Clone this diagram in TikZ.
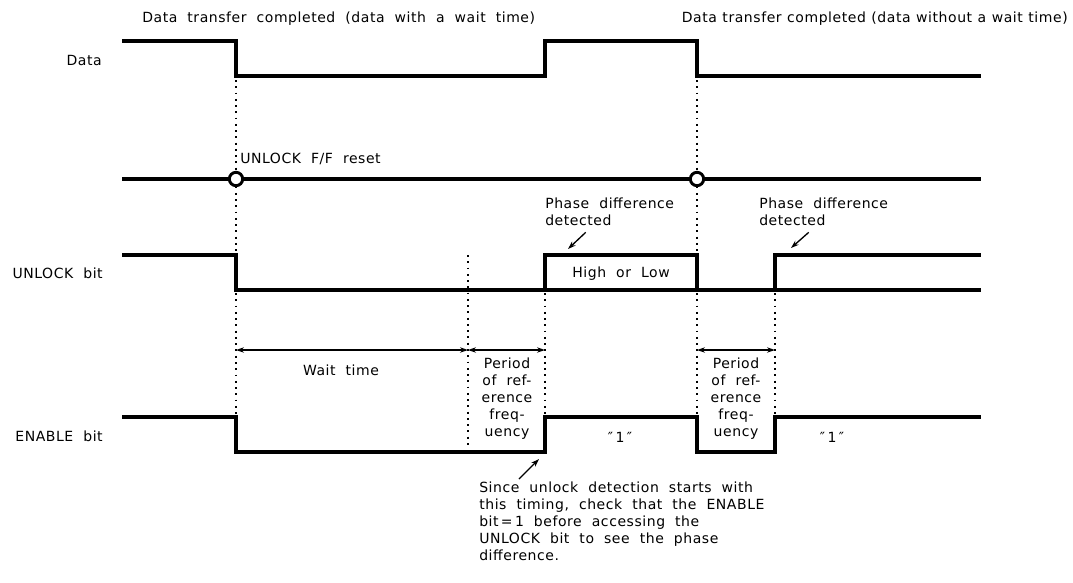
\documentclass[tikz,border=0pt]{standalone}
\usepackage{fontspec}
\setmainfont[LetterSpace=4, WordSpace=2]{DejaVu Sans}
\newfontfamily\tightfont[LetterSpace=4, WordSpace=1.1]{DejaVu Sans}
\usetikzlibrary{positioning}
\usetikzlibrary{arrows.meta}

\begin{document}
\begin{tikzpicture}[
                x=0.75pt, y=-0.75pt, % 以像素为单位, y 向下
                wave/.style={line width=2.5pt, line join=miter}, % 波形线
                guide/.style={line width=1.1pt, dash pattern=on 1.4pt off 3.3pt}, % 点线
                span/.style={line width=1pt, {Stealth[length=6pt,width=4pt]}-{Stealth[length=6pt,width=4pt]}}, % 尺寸箭头
                ptr/.style={line width=1pt, -{Stealth[length=6pt,width=4pt]}}, % 指示箭头
                every node/.style={
                    inner sep=0, % 内边距为 0
                    font=\fontsize{10.5}{12.75}\selectfont % 字体大小
                },
                ring/.style={circle, draw, fill=white, line width=2.2pt, minimum size=10pt} % 复位圆圈
            ]

            \useasboundingbox (0,0) rectangle (1073,582);

            % 信号名称
            \node [anchor=base east] (data) at (102,65) {Data};
            \node [anchor=base east] (unlk) at (103,278) {UNLOCK bit};
            \node [anchor=base east] (enbl) at (103,441) {ENABLE bit};

            % 顶部说明
            \node [anchor=base west] (done1) at (142,22) {Data transfer completed (data with a wait time)};
            \node [anchor=base east, font=\fontsize{10.5}{12.75}\tightfont] (done2) at (1068,22) {Data transfer completed (data without a wait time)};

            % 点线
            \draw [guide] (236,80) -- (236,417);
            \draw [guide] (697,80) -- (697,255);
            \draw [guide] (697,293) -- (697,417);
            \draw [guide] (468,255) -- (468,447);
            \draw [guide] (545,293) -- (545,417);
            \draw [guide] (775,293) -- (775,417);

            % Data 波形
            \draw [wave] (122,41) -- (236,41) -- (236,76) -- (545,76) -- (545,41) -- (697,41) -- (697,76) -- (981,76);

            % 复位线
            \draw [wave] (122,179) -- (981,179);
            \node [ring] (rst1) at (236,179) {};
            \node [ring] (rst2) at (697,179) {};
            \node [anchor=base west] (rstlbl) at (240,163) {UNLOCK F/F reset};

            % UNLOCK bit 波形
            \draw [wave] (122,255) -- (236,255) -- (236,290) -- (981,290);
            \draw [wave] (545,290) -- (545,255) -- (697,255) -- (697,290);
            \draw [wave] (775,290) -- (775,255) -- (981,255);
            \node [anchor=base] (hilo) at (621,277) {High or Low};

            % 相位差检测
            \node [anchor=north west, align=left] (ph1) at (545,198) {Phase difference\\detected};
            \node [anchor=north west, align=left] (ph2) at (759,198) {Phase difference\\detected};
            \coordinate (hit1) at (568,249);
            \coordinate (hit2) at (791,248);
            \draw [ptr] ([shift={(-24,6)}]ph1.south) -- (hit1);
            \draw [ptr] ([shift={(-15,6)}]ph2.south) -- (hit2);

            % 时间间隔
            \coordinate (t0) at (236,350);
            \coordinate (t1) at (468,350);
            \coordinate (t2) at (545,350);
            \coordinate (t3) at (697,350);
            \coordinate (t4) at (775,350);
            \draw [span] (t0) -- (t1);
            \draw [span] (t1) -- (t2);
            \draw [span] (t3) -- (t4);
            \node [anchor=base] (wait) at (341,375) {Wait time};
            \node [anchor=north, align=center] (per1) at (507,358) {Period\\of ref-\\erence\\freq-\\uency};
            \node [anchor=north, align=center] (per2) at (736,358) {Period\\of ref-\\erence\\freq-\\uency};

            % ENABLE bit 波形
            \draw [wave] (122,417) -- (236,417) -- (236,452) -- (545,452) -- (545,417) -- (697,417) -- (697,452) -- (775,452) -- (775,417) -- (981,417);
            \node [anchor=base] (one1) at (620,442) {″\,1\,″};
            \node [anchor=base] (one2) at (832,442) {″\,1\,″};

            % 底部注释
            \node [anchor=north west, align=left] (note) at (479,482) {Since unlock detection starts with\\this timing, check that the ENABLE\\bit\,=\,1 before accessing the\\UNLOCK bit to see the phase\\difference.};
            \coordinate (hit3) at (539,459);
            \draw [ptr] ([shift={(40,-3)}]note.north west) -- (hit3);
\end{tikzpicture}
\end{document}
